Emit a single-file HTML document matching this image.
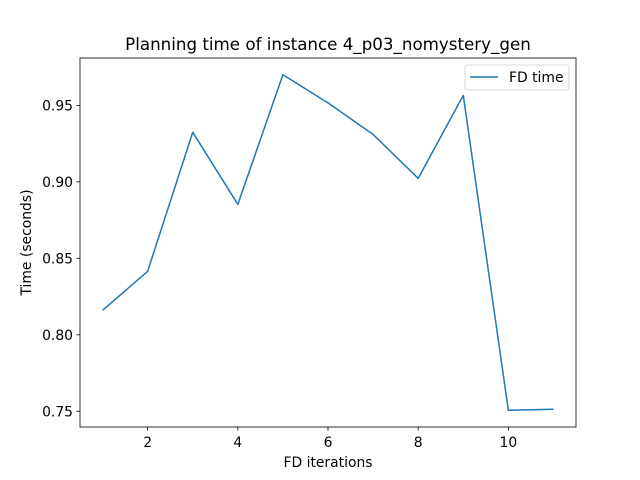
<!DOCTYPE html>
<html><head><meta charset="utf-8"><style>
html,body{margin:0;padding:0;background:#fff;}
svg{display:block;font-family:"DejaVu Sans","Liberation Sans",sans-serif;}
</style></head><body>
<svg id="chart" width="640" height="480" viewBox="0 0 640 480">
<rect width="640" height="480" fill="#fff"/>
<text x="328" y="50" font-size="16.7" text-anchor="middle">Planning time of instance 4_p03_nomystery_gen</text>
<g id="ticks"></g>
<path id="line" fill="none" stroke="#1f77b4" stroke-width="1.5" stroke-linejoin="round"/>
<rect x="80" y="58" width="496" height="369" fill="none" stroke="#000" stroke-width="0.8"/>
<text x="328" y="467" font-size="13.9" text-anchor="middle">FD iterations</text>
<text x="31" y="242.5" font-size="13.9" text-anchor="middle" transform="rotate(-90 31 242.5)">Time (seconds)</text>
<g>
<rect x="465" y="65" width="104" height="25" rx="2" fill="#fff" stroke="#ccc" stroke-width="0.8"/>
<line x1="470" y1="77" x2="498" y2="77" stroke="#1f77b4" stroke-width="1.5"/>
<text x="509" y="82" font-size="13.9">FD time</text>
</g>
</svg>
<script>
const iterations=[1,2,3,4,5,6,7,8,9,10,11];
const times=[0.816,0.8415,0.9324,0.8853,0.970,0.9516,0.931,0.9023,0.9565,0.7507,0.7513];
const xTicks=[2,4,6,8,10];
const yTicks=[0.75,0.80,0.85,0.90,0.95];
const yTickLabels=["0.75","0.80","0.85","0.90","0.95"];
const X0=80,X1=576,Y0=427,Y1=58;
const xmin=Math.min(...iterations),xmax=Math.max(...iterations);
const xpad=(xmax-xmin)*0.05;
const ymin=Math.min(...times),ymax=Math.max(...times);
const ypad=(ymax-ymin)*0.05;
function sx(v){return X0+(v-(xmin-xpad))/((xmax+xpad)-(xmin-xpad))*(X1-X0);}
function sy(v){return Y0-(v-(ymin-ypad))/((ymax+ypad)-(ymin-ypad))*(Y0-Y1);}
const ns="http://www.w3.org/2000/svg";
const g=document.getElementById('ticks');
xTicks.forEach(t=>{
 const l=document.createElementNS(ns,'line');
 l.setAttribute('x1',sx(t));l.setAttribute('x2',sx(t));l.setAttribute('y1',427);l.setAttribute('y2',430.5);l.setAttribute('stroke','#000');l.setAttribute('stroke-width','0.8');
 
 
 g.appendChild(l);
 const tx=document.createElementNS(ns,'text');
 tx.setAttribute('x',sx(t));tx.setAttribute('y',447);tx.setAttribute('font-size','13.9');tx.setAttribute('text-anchor','middle');
 tx.textContent=t;
 
 
 g.appendChild(tx);
});
yTicks.forEach((t,i)=>{
 const l=document.createElementNS(ns,'line');
 l.setAttribute('x1',76.5);l.setAttribute('x2',80);l.setAttribute('y1',sy(t));l.setAttribute('y2',sy(t));l.setAttribute('stroke','#000');l.setAttribute('stroke-width','0.8');
 
 
 g.appendChild(l);
 const tx=document.createElementNS(ns,'text');
 tx.setAttribute('x',73);tx.setAttribute('y',sy(t)+5);tx.setAttribute('font-size','13.9');tx.setAttribute('text-anchor','end');
 tx.textContent=yTickLabels[i];
 
 
 g.appendChild(tx);
});
document.getElementById('line').setAttribute('d',iterations.map((x,i)=>(i?'L':'M')+sx(x).toFixed(2)+','+sy(times[i]).toFixed(2)).join(' '));
</script>
</body></html>
